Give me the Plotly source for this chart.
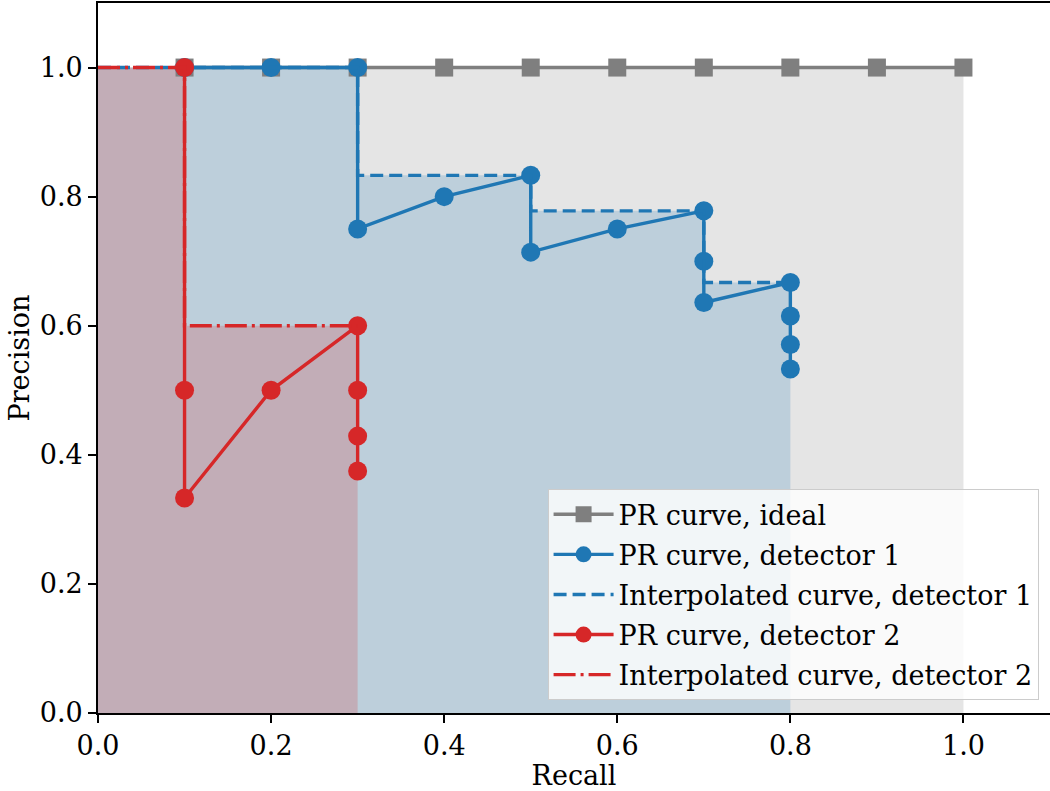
import plotly.graph_objects as go

# ---- data ----
ideal_recall = [0.1, 0.2, 0.3, 0.4, 0.5, 0.6, 0.7, 0.8, 0.9, 1.0]
ideal_precision = [1.0, 1.0, 1.0, 1.0, 1.0, 1.0, 1.0, 1.0, 1.0, 1.0]
ideal_fill_recall = [0.0, 1.0]
ideal_fill_precision = [1.0, 1.0]

det1_recall = [0.1, 0.2, 0.3, 0.3, 0.4, 0.5, 0.5, 0.6, 0.7, 0.7, 0.7, 0.8, 0.8, 0.8, 0.8]
det1_precision = [1.0, 1.0, 1.0, 0.75, 0.8, 0.833, 0.714, 0.75, 0.778, 0.7, 0.636, 0.667, 0.615, 0.571, 0.533]
interp1_recall = [0.0, 0.3, 0.3, 0.5, 0.5, 0.7, 0.7, 0.8]
interp1_precision = [1.0, 1.0, 0.833, 0.833, 0.778, 0.778, 0.667, 0.667]

det2_recall = [0.1, 0.1, 0.1, 0.2, 0.3, 0.3, 0.3, 0.3]
det2_precision = [1.0, 0.5, 0.333, 0.5, 0.6, 0.5, 0.429, 0.375]
interp2_recall = [0.0, 0.1, 0.1, 0.3]
interp2_precision = [1.0, 1.0, 0.6, 0.6]

x_ticks = [0.0, 0.2, 0.4, 0.6, 0.8, 1.0]
y_ticks = [0.0, 0.2, 0.4, 0.6, 0.8, 1.0]

GRAY = "#7f7f7f"
BLUE = "#1f77b4"
RED = "#d62728"
FONT = "DejaVu Serif"
FS = 27
LW = 3.4
MS = 19

fig = go.Figure()

# fills
for xs, ys, col in [
    (ideal_fill_recall, ideal_fill_precision, "rgba(127,127,127,0.2)"),
    (interp1_recall, interp1_precision, "rgba(31,119,180,0.2)"),
    (interp2_recall, interp2_precision, "rgba(214,39,40,0.2)"),
]:
    fig.add_trace(go.Scatter(x=xs, y=ys, mode="lines", fill="tozeroy", fillcolor=col,
                             line=dict(width=0), showlegend=False, hoverinfo="skip"))

fig.add_trace(go.Scatter(x=ideal_recall, y=ideal_precision, mode="lines+markers",
                         name="PR curve, ideal", legendgroup="a",
                         line=dict(color=GRAY, width=LW),
                         marker=dict(symbol="square", size=MS - 1, color=GRAY, line=dict(width=0))))
fig.add_trace(go.Scatter(x=det1_recall, y=det1_precision, mode="lines+markers",
                         name="PR curve, detector 1", legendgroup="b",
                         line=dict(color=BLUE, width=LW),
                         marker=dict(symbol="circle", size=MS, color=BLUE, line=dict(width=0))))
fig.add_trace(go.Scatter(x=interp1_recall, y=interp1_precision, mode="lines",
                         name="Interpolated curve, detector 1", legendgroup="c",
                         line=dict(color=BLUE, width=LW, dash="13px,6px")))
fig.add_trace(go.Scatter(x=det2_recall, y=det2_precision, mode="lines+markers",
                         name="PR curve, detector 2", legendgroup="d",
                         line=dict(color=RED, width=LW),
                         marker=dict(symbol="circle", size=MS, color=RED, line=dict(width=0))))
fig.add_trace(go.Scatter(x=interp2_recall, y=interp2_precision, mode="lines",
                         name="Interpolated curve, detector 2", legendgroup="e",
                         line=dict(color=RED, width=LW, dash="22px,5px,3px,5px")))

axis_common = dict(
    showline=True, mirror=True, linecolor="black", linewidth=1.8,
    ticks="outside", ticklen=8, tickwidth=1.8, tickcolor="black",
    showgrid=False, zeroline=False, tickformat=".1f",
    tickfont=dict(family=FONT, size=FS, color="black"),
    automargin=False,
)

fig.update_xaxes(range=[0, 1.1], tickvals=x_ticks,
                 title=dict(text="Recall", font=dict(family=FONT, size=FS, color="black"), standoff=4),
                 **axis_common)
fig.update_yaxes(range=[0, 1.1], tickvals=y_ticks,
                 title=dict(text="Precision", font=dict(family=FONT, size=FS, color="black"), standoff=2),
                 **axis_common)

fig.update_layout(
    width=1050, height=791,
    margin=dict(l=98, r=0, t=3, b=78),
    paper_bgcolor="white", plot_bgcolor="white",
    font=dict(family=FONT, size=FS, color="black"),
    legend=dict(x=0.988, y=0.018, xanchor="right", yanchor="bottom",
                bgcolor="rgba(255,255,255,0.8)", bordercolor="#cccccc", borderwidth=1,
                font=dict(family=FONT, size=FS, color="black"),
                tracegroupgap=2, itemwidth=60),
)

fig.write_html("out.html")
